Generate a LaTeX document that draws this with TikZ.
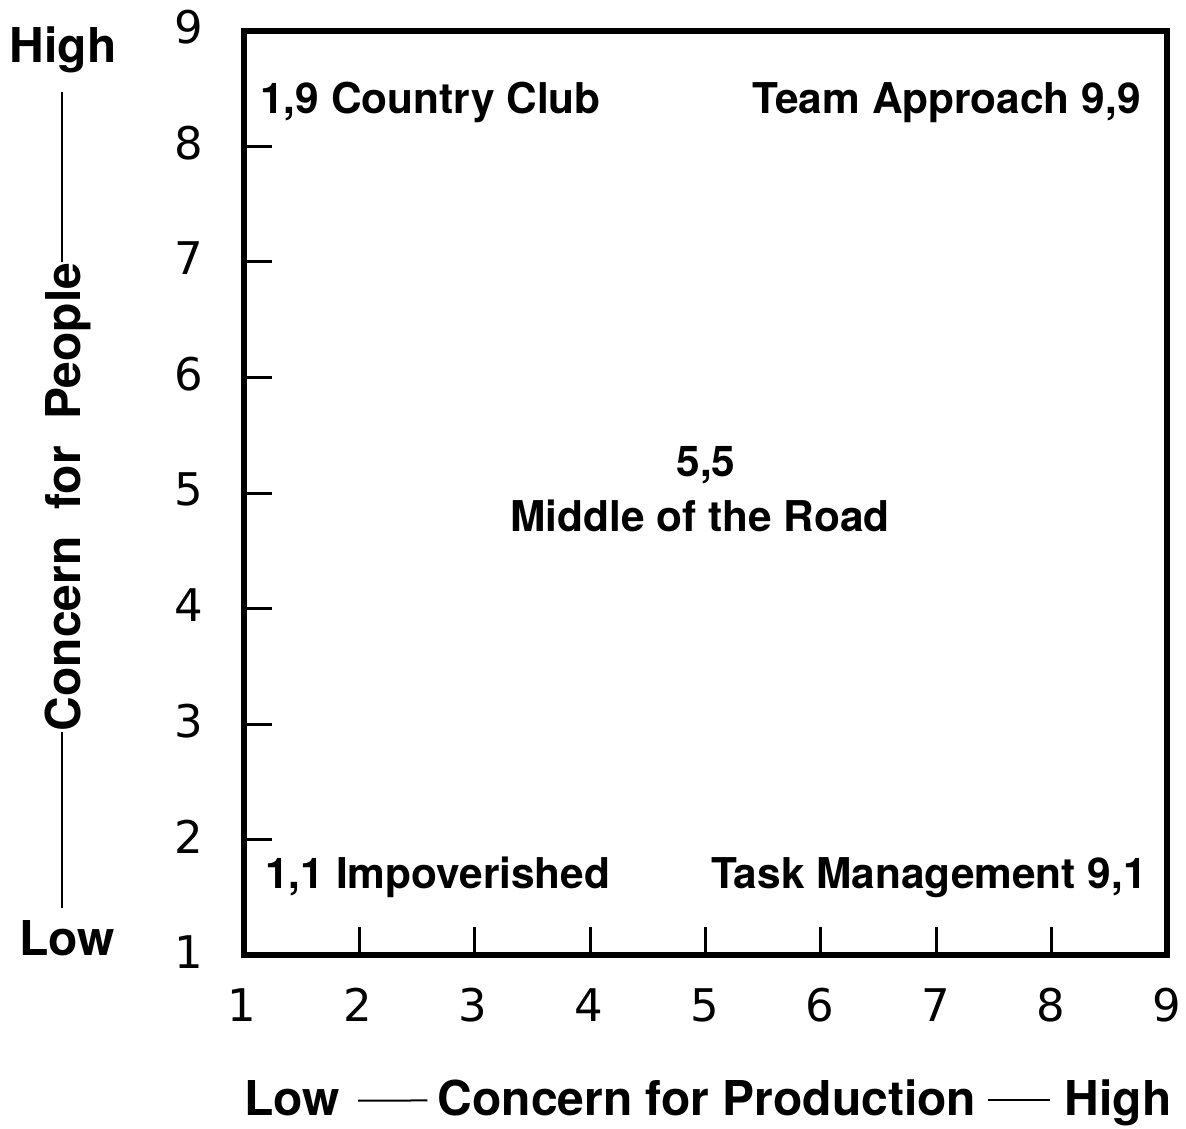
\documentclass[tikz,border=0pt]{standalone}
\usepackage{fontspec}
\setmainfont{TeX Gyre Heros}
\newfontfamily\numfont{DejaVu Sans}
\usetikzlibrary{positioning}

\begin{document}
\begin{tikzpicture}[x=0.5pt, y=-0.5pt]
    % Define styles
    \tikzstyle{quad} = [font=\fontsize{21.2}{26}\selectfont\bfseries, inner sep=0pt]
    \tikzstyle{axislabel} = [font=\fontsize{24}{28}\selectfont\bfseries, inner sep=0pt]
    \tikzstyle{ticknum} = [font=\fontsize{22.5}{26}\selectfont\numfont, inner sep=0pt]
    \tikzstyle{frame} = [line width=3.2pt]
    \tikzstyle{tickline} = [line width=1.5pt]
    \tikzstyle{rule} = [line width=1pt]

    \useasboundingbox (0,0) rectangle (1186,1128);

    % Grid frame and ticks
    \coordinate (origin) at (244,955);
    \coordinate (corner) at (1167,31);
    \draw [frame] (origin) rectangle (corner);
    \foreach \i in {2,...,8} {
        \draw [tickline] ({244+115.375*(\i-1)},955) -- ++(0,-28);
        \draw [tickline] (244,{955-115.5*(\i-1)}) -- ++(28,0);
    }
    \foreach \i in {1,...,9} {
        \node [ticknum] (x\i) at ({242+115.6*(\i-1)},1005) {\i};
        \node [ticknum] (y\i) at (189,{952-115.6*(\i-1)}) {\i};
    }

    % Quadrant labels
    \node [quad, anchor=base west] (club) at (260,114) {1,9 Country Club};
    \node [quad, anchor=base east] (team) at (1141,114) {Team Approach 9,9};
    \node [quad, anchor=base] (mid) at (706,476) {5,5};
    \node [quad, anchor=base] (road) at (700,531) {Middle of the Road};
    \node [quad, anchor=base west] (poor) at (265,888) {1,1 Impoverished};
    \node [quad, anchor=base east] (task) at (1147,888) {Task Management 9,1};

    % Vertical axis label
    \node [axislabel, anchor=base] (yhigh) at (63,63) {High};
    \node [axislabel, anchor=base] (ylow) at (67,955) {Low};
    \node [axislabel, anchor=base, rotate=90] (ytitle) at (80,497) {Concern\ \ for\ \ People};
    \coordinate (ytop) at (62,92);
    \coordinate (ybot) at (62,908);
    \draw [rule] (ytop) -- (ytitle.east -| ytop);
    \draw [rule] (ytitle.west -| ybot) -- (ybot);

    % Horizontal axis label
    \node [axislabel, anchor=base] (xlow) at (292,1115) {Low};
    \node [axislabel, anchor=base] (xtitle) at (707,1115) {Concern for Production};
    \node [axislabel, anchor=base] (xhigh) at (1118,1115) {High};
    \draw [rule] ([xshift=9pt, yshift=-1.5pt]xlow.east) -- ([xshift=-5pt, yshift=-1.5pt]xtitle.west);
    \draw [rule] ([xshift=5.5pt, yshift=-1.5pt]xtitle.east) -- ([xshift=-7pt, yshift=-1.5pt]xhigh.west |- xtitle.east);

\end{tikzpicture}
\end{document}
